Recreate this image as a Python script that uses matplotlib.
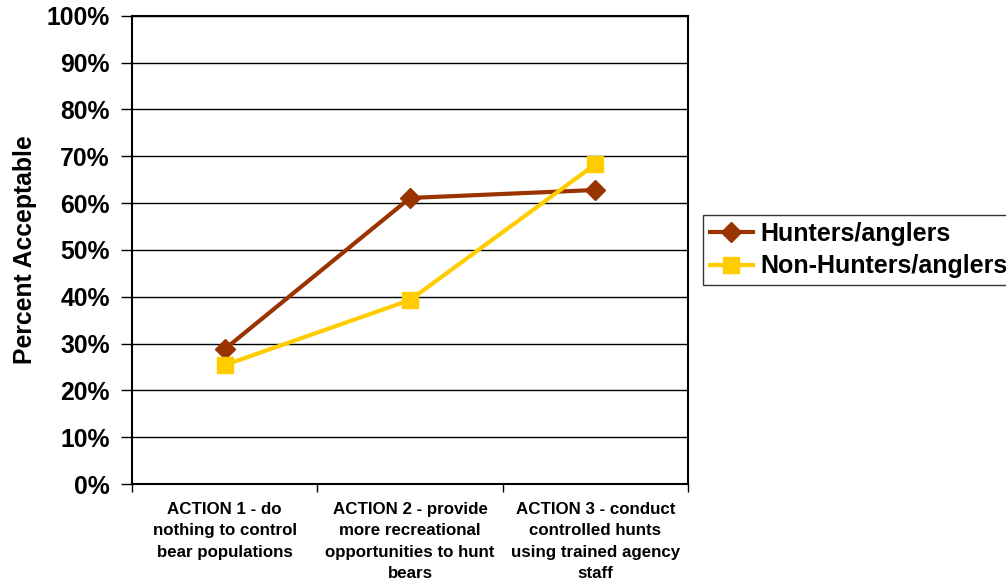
import matplotlib
matplotlib.use("Agg")
import matplotlib.pyplot as plt
from matplotlib.ticker import MultipleLocator, FuncFormatter

plt.rcParams['font.family'] = ['Liberation Sans', 'DejaVu Sans']
plt.rcParams['font.weight'] = 'bold'

categories = [
    "ACTION 1 - do\nnothing to control\nbear populations",
    "ACTION 2 - provide\nmore recreational\nopportunities to hunt\nbears",
    "ACTION 3 - conduct\ncontrolled hunts\nusing trained agency\nstaff",
]
hunters = [28.8, 61.1, 62.8]
non_hunters = [25.4, 39.3, 68.3]

fig = plt.figure(figsize=(10.06, 5.86), dpi=100)
ax = fig.add_axes([0.1312, 0.174, 0.5528, 0.799])

x = list(range(1, len(categories) + 1))
ax.plot(x, hunters, color="#993300", lw=3, marker="D", ms=10,
        label="Hunters/anglers", zorder=3, clip_on=False)
ax.plot(x, non_hunters, color="#FFCC00", lw=3, marker="s", ms=11,
        label="Non-Hunters/anglers", zorder=3, clip_on=False)

ax.set_xlim(0.5, len(categories) + 0.5)
ax.set_ylim(0, 100)
ax.yaxis.set_major_locator(MultipleLocator(10))
ax.yaxis.set_major_formatter(FuncFormatter(lambda v, p: f"{v:.0f}%"))
ax.grid(axis="y", color="black", lw=1)
ax.set_axisbelow(True)

ax.set_xticks([i + 0.5 for i in range(len(categories) + 1)])
ax.set_xticklabels([])
ax.set_xticks(x, minor=True)
ax.set_xticklabels(categories, minor=True, fontsize=12.2, fontweight="bold",
                   linespacing=1.52, va="top")
ax.tick_params(axis="x", which="minor", length=0, pad=13)
ax.tick_params(axis="x", which="major", length=6, width=1, direction="out")
ax.tick_params(axis="y", length=8, width=1, direction="out", labelsize=17.8, pad=8)
for lbl in ax.get_yticklabels():
    lbl.set_fontweight("bold")

for s in ax.spines.values():
    s.set_linewidth(1.5)
    s.set_color("black")

ax.set_ylabel("Percent Acceptable", fontsize=17.8, fontweight="bold", labelpad=7)

leg = fig.legend(loc="upper left", bbox_to_anchor=(703 / 1006, 1 - 215 / 586),
                 frameon=True, fancybox=False, edgecolor="black",
                 prop={"size": 18, "weight": "bold"}, handlelength=1.7,
                 borderpad=0.28, labelspacing=0.33, handletextpad=0.3,
                 borderaxespad=0)
leg.get_frame().set_linewidth(1)

fig.savefig("out.png", dpi=100)
